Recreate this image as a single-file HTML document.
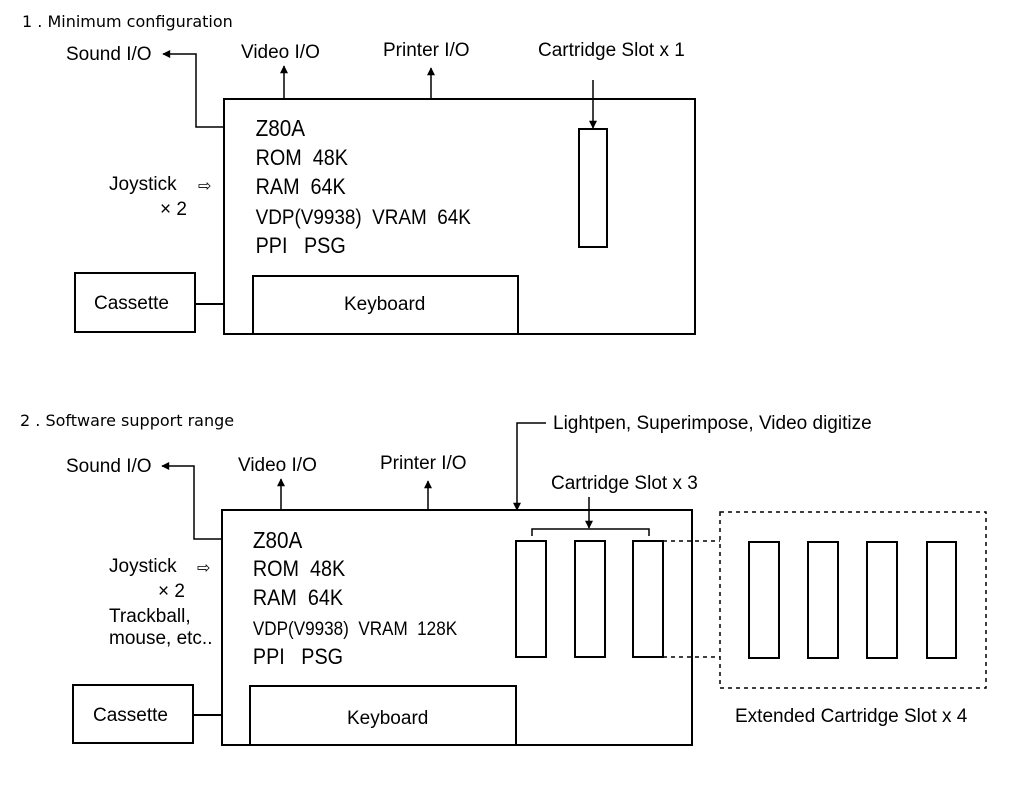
<!DOCTYPE html>
<html><head><meta charset="utf-8"><style>
html,body{margin:0;padding:0;background:#fff;}
svg{display:block;}
text{font-family:"Liberation Sans",sans-serif;fill:#000;white-space:pre;}
.m{font-size:21px;}
.l{font-size:19px;}
.h{font-size:16px;font-family:"DejaVu Sans","Liberation Sans",sans-serif;}
</style></head><body>
<svg width="1024" height="786" viewBox="0 0 1024 786" xmlns="http://www.w3.org/2000/svg" xml:space="preserve">
<defs>
<marker id="a" viewBox="0 0 10 10" refX="9" refY="5" markerWidth="9" markerHeight="8" orient="auto-start-reverse" markerUnits="userSpaceOnUse"><path d="M0,0 L10,5 L0,10 z" fill="#000"/></marker>
</defs>
<g fill="none" stroke="#000" stroke-width="2">
<rect x="224" y="99" width="471" height="235"/>
<rect x="253" y="276" width="265" height="58"/>
<rect x="75" y="273" width="120" height="59"/>
<line x1="195" y1="304" x2="224" y2="304"/>
<polyline points="224,127 196,127 196,54 163,54" stroke-width="1.5" marker-end="url(#a)"/>
<line x1="284" y1="99" x2="284" y2="66" stroke-width="1.5" marker-end="url(#a)"/>
<line x1="431" y1="99" x2="431" y2="68" stroke-width="1.5" marker-end="url(#a)"/>
<line x1="593" y1="80" x2="593" y2="128" stroke-width="1.5" marker-end="url(#a)"/>
<rect x="579" y="129" width="28" height="118"/>
<rect x="222" y="510" width="470" height="235"/>
<rect x="250" y="686" width="266" height="59"/>
<rect x="73" y="685" width="120" height="58"/>
<line x1="193" y1="715" x2="222" y2="715"/>
<polyline points="222,539 194,539 194,466 162,466" stroke-width="1.5" marker-end="url(#a)"/>
<line x1="281" y1="510" x2="281" y2="479" stroke-width="1.5" marker-end="url(#a)"/>
<line x1="428" y1="510" x2="428" y2="481" stroke-width="1.5" marker-end="url(#a)"/>
<polyline points="546,423 517,423 517,510" stroke-width="1.5" marker-end="url(#a)"/>
<line x1="589" y1="497" x2="589" y2="528" stroke-width="1.5" marker-end="url(#a)"/>
<polyline points="532,536 532,529 649,529 649,536" stroke-width="1.5"/>
<rect x="516" y="541" width="30" height="116"/>
<rect x="575" y="541" width="30" height="116"/>
<rect x="633" y="541" width="30" height="116"/>
<g stroke-dasharray="4,4" stroke-width="1.5">
<line x1="663" y1="541" x2="720" y2="541"/>
<line x1="663" y1="657" x2="720" y2="657"/>
<rect x="720" y="512" width="266" height="176"/>
</g>
<rect x="749" y="542" width="30" height="116"/>
<rect x="808" y="542" width="30" height="116"/>
<rect x="867" y="542" width="30" height="116"/>
<rect x="927" y="542" width="29" height="116"/>
</g>
<text x="22" y="27" class="h">1 . Minimum configuration</text>
<text x="66" y="60" class="l">Sound I/O</text>
<text x="241" y="58" class="l">Video I/O</text>
<text x="383" y="56" class="l">Printer I/O</text>
<text x="538" y="56" class="l">Cartridge Slot x 1</text>
<text x="109" y="190" class="l">Joystick</text>
<text x="198" y="191" style="font-size:16px">⇨</text>
<text x="160" y="215" class="l">× 2</text>
<text x="94" y="309" class="l">Cassette</text>
<text x="344" y="310" class="l">Keyboard</text>
<g transform="scale(0.9,1)">
<text x="284" y="136" class="m" style="font-size:23px">Z80A</text>
<text x="284" y="165" class="m" style="font-size:22px">ROM  48K</text>
<text x="284" y="194" class="m" style="font-size:22px">RAM  64K</text>
<text x="284" y="224" class="m">VDP(V9938)  VRAM  64K</text>
<text x="284" y="253" class="m" style="font-size:22px">PPI   PSG</text>
</g>
<text x="20" y="426" class="h">2 . Software support range</text>
<text x="66" y="472" class="l">Sound I/O</text>
<text x="238" y="471" class="l">Video I/O</text>
<text x="380" y="469" class="l">Printer I/O</text>
<text x="553" y="429" class="l">Lightpen, Superimpose, Video digitize</text>
<text x="551" y="489" class="l">Cartridge Slot x 3</text>
<text x="109" y="572" class="l">Joystick</text>
<text x="197" y="573" style="font-size:16px">⇨</text>
<text x="158" y="597" class="l">× 2</text>
<text x="109" y="622" class="l">Trackball,</text>
<text x="109" y="644" class="l">mouse, etc..</text>
<text x="93" y="721" class="l">Cassette</text>
<text x="347" y="724" class="l">Keyboard</text>
<text x="735" y="722" class="l">Extended Cartridge Slot x 4</text>
<g transform="scale(0.9,1)">
<text x="281" y="548" class="m" style="font-size:23px">Z80A</text>
<text x="281" y="576" class="m" style="font-size:22px">ROM  48K</text>
<text x="281" y="605" class="m" style="font-size:22px">RAM  64K</text>
<text x="281" y="635" class="m" style="font-size:19px">VDP(V9938)  VRAM  128K</text>
<text x="281" y="664" class="m" style="font-size:22px">PPI   PSG</text>
</g>
</svg>
</body></html>
